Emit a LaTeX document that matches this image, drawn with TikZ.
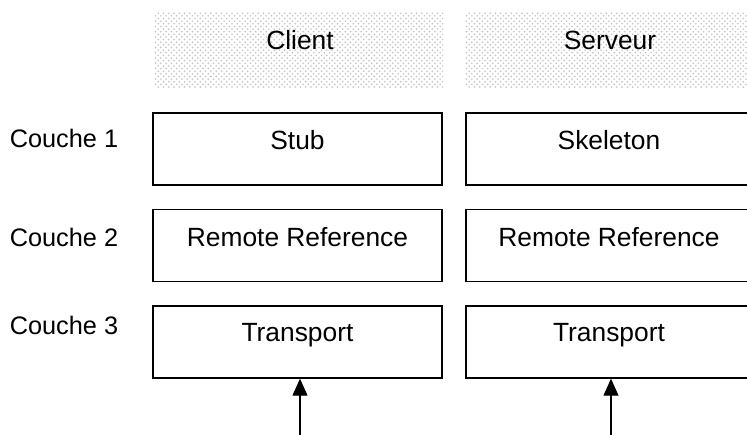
\documentclass[tikz,border=0pt]{standalone}
\usepackage{fontspec}
\setmainfont{Liberation Sans}
\usetikzlibrary{arrows.meta}
\usetikzlibrary{patterns}
\usetikzlibrary{positioning}

\tikzset{
  layer/.style = {draw, line width=0.8pt, minimum width=5.78cm, minimum height=1.44cm, inner sep=0pt},
  srvlayer/.style = {layer, minimum width=5.72cm},
  intext/.style = {anchor=north, inner sep=0pt, yshift=-0.36cm, font=\fontsize{15}{18}\selectfont},
  header/.style = {pattern=crosshatch dots, pattern color=black!25, minimum height=1.5cm, inner sep=0pt},
  arr/.style = {line width=0.6pt, -{Triangle[width=0.3cm, length=0.34cm]}}
}

\begin{document}
\begin{tikzpicture}[font=\fontsize{14.4}{17}\selectfont]
      \clip (0, 0) rectangle (14.94, 8.7);

      % en-tetes
      \node[header, minimum width=5.78cm] (client) at (5.97, 7.69) {};
      \node[header, minimum width=5.74cm] (serveur) at (12.17, 7.69) {};
      \node[font=\fontsize{15}{18}\selectfont] (clienttxt) at (6.0, 7.9) {Client};
      \node[font=\fontsize{15}{18}\selectfont] (serveurtxt) at (12.2, 7.9) {Serveur};

      % couches
      \node (couche1) at (1.28, 5.94) {Couche 1};
      \node (couche2) at (1.28, 3.96) {Couche 2};
      \node (couche3) at (1.28, 2.2) {Couche 3};

      % cote client
      \node[layer, label={[intext]north:Stub}] (cstub) at (5.95, 5.72) {};
      \node[layer, label={[intext]north:Remote Reference}] (cref) at (5.95, 3.79) {};
      \node[layer, label={[intext]north:Transport}] (ctrans) at (5.95, 1.86) {};

      % cote serveur
      \node[srvlayer, label={[intext]north:Skeleton}] (sskel) at (12.18, 5.72) {};
      \node[srvlayer, label={[intext]north:Remote Reference}] (sref) at (12.18, 3.79) {};
      \node[srvlayer, label={[intext]north:Transport}] (strans) at (12.18, 1.86) {};

      \coordinate (cin) at (6.0, 0);
      \coordinate (sin) at (12.22, 0);
      \draw[arr] (cin) -- (cin |- ctrans.south);
      \draw[arr] (sin) -- (sin |- strans.south);
\end{tikzpicture}
\end{document}
